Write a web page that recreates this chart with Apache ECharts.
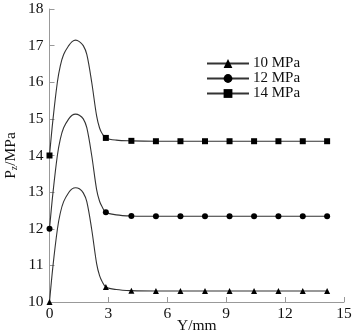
<!DOCTYPE html>
<html>
<head>
<meta charset="utf-8">
<script src="https://cdn.jsdelivr.net/npm/echarts@6/dist/echarts.min.js"></script>
<style>
  html, body { margin: 0; padding: 0; background: #fff; }
  #chart { width: 354px; height: 334px; }
</style>
</head>
<body>
<div id="chart"></div>
<script>
// Y position (mm) of the drawn markers
const markX = [0, 2.87, 4.17, 5.42, 6.67, 7.92, 9.17, 10.42, 11.66, 12.9, 14.14];
// extra points
const curveX = [0.18, 0.4, 0.55, 0.72, 0.98, 1.15, 1.33, 1.52, 1.72, 1.9, 2.15, 2.4, 2.55, 2.68, 3.4];

const p10Mark = [10.0, 10.41, 10.31, 10.30, 10.30, 10.30, 10.30, 10.30, 10.30, 10.30, 10.30];
const p10Curve = [11.0, 11.98, 12.43, 12.74, 12.99, 13.09, 13.12, 13.09, 12.98, 12.74, 11.98, 11.05, 10.72, 10.56, 10.34];

const p12Mark = [12.0, 12.45, 12.35, 12.34, 12.34, 12.34, 12.34, 12.34, 12.34, 12.34, 12.34];
const p12Curve = [13.0, 14.0, 14.45, 14.76, 15.0, 15.1, 15.13, 15.1, 15.0, 14.76, 14.0, 13.07, 12.75, 12.6, 12.38];

const p14Mark = [14.0, 14.48, 14.40, 14.39, 14.39, 14.39, 14.39, 14.39, 14.39, 14.39, 14.39];
const p14Curve = [15.0, 16.0, 16.45, 16.76, 17.0, 17.11, 17.15, 17.11, 17.0, 16.76, 16.0, 15.08, 14.75, 14.6, 14.42];

const seriesNames = ['10 MPa', '12 MPa', '14 MPa'];
const seriesSymbols = ['triangle', 'circle', 'rect'];

const font = 'Liberation Serif';

// merge marker points and plain curve points into one ordered list
function buildData(markY, curveY) {
  const pts = [];
  markX.forEach((x, i) => pts.push({ value: [x, markY[i]] }));
  curveX.forEach((x, i) => pts.push({ value: [x, curveY[i]], symbol: 'none' }));
  pts.sort((a, b) => a.value[0] - b.value[0]);
  return pts;
}

const allData = [
  buildData(p10Mark, p10Curve),
  buildData(p12Mark, p12Curve),
  buildData(p14Mark, p14Curve),
];

const chart = echarts.init(document.getElementById('chart'));

const option = {
  animation: false,
  grid: { left: 49.5, right: 10, top: 9, bottom: 32, outerBoundsMode: 'none' },
  legend: {
    orient: 'vertical',
    left: 201,
    top: 51,
    itemGap: 0,
    itemWidth: 42,
    itemHeight: 11,
    textStyle: { fontFamily: font, fontSize: 15, color: '#111', lineHeight: 15, padding: [0, 0, 0, -1] },
    data: seriesNames,
  },
  xAxis: {
    type: 'value',
    min: 0,
    max: 15,
    interval: 3,
    name: 'Y/mm',
    nameLocation: 'middle',
    nameGap: 16,
    nameMoveOverlap: false,
    nameTextStyle: { fontFamily: font, fontSize: 15.5, color: '#111' },
    axisLine: { lineStyle: { color: '#999' } },
    axisTick: { inside: true, length: 5, lineStyle: { color: '#999' } },
    axisLabel: { fontFamily: font, fontSize: 15.5, color: '#111', margin: 4 },
    splitLine: { show: false },
  },
  yAxis: {
    type: 'value',
    min: 10,
    max: 18,
    interval: 1,
    name: '{a|P}{b|z}{a|/MPa}',
    nameLocation: 'middle',
    nameGap: 30,
    nameMoveOverlap: false,
    nameTextStyle: {
      rich: {
        a: { fontFamily: font, fontSize: 15.5, color: '#111' },
        b: { fontFamily: font, fontSize: 10, color: '#111', padding: [8, 0, 0, 0] },
      },
    },
    axisLine: { show: true, lineStyle: { color: '#999' } },
    axisTick: { show: true, inside: true, length: 5, lineStyle: { color: '#999' } },
    axisLabel: { fontFamily: font, fontSize: 15.5, color: '#111', margin: 6 },
    splitLine: { show: false },
  },
  series: seriesNames.map((name, i) => ({
    name: name,
    type: 'line',
    smooth: 0.35,
    symbol: seriesSymbols[i],
    symbolSize: 6,
    showAllSymbol: true,
    lineStyle: { color: '#333', width: 1.1 },
    itemStyle: { color: '#000' },
    data: allData[i],
  })),
};

chart.setOption(option);
</script>
</body>
</html>
